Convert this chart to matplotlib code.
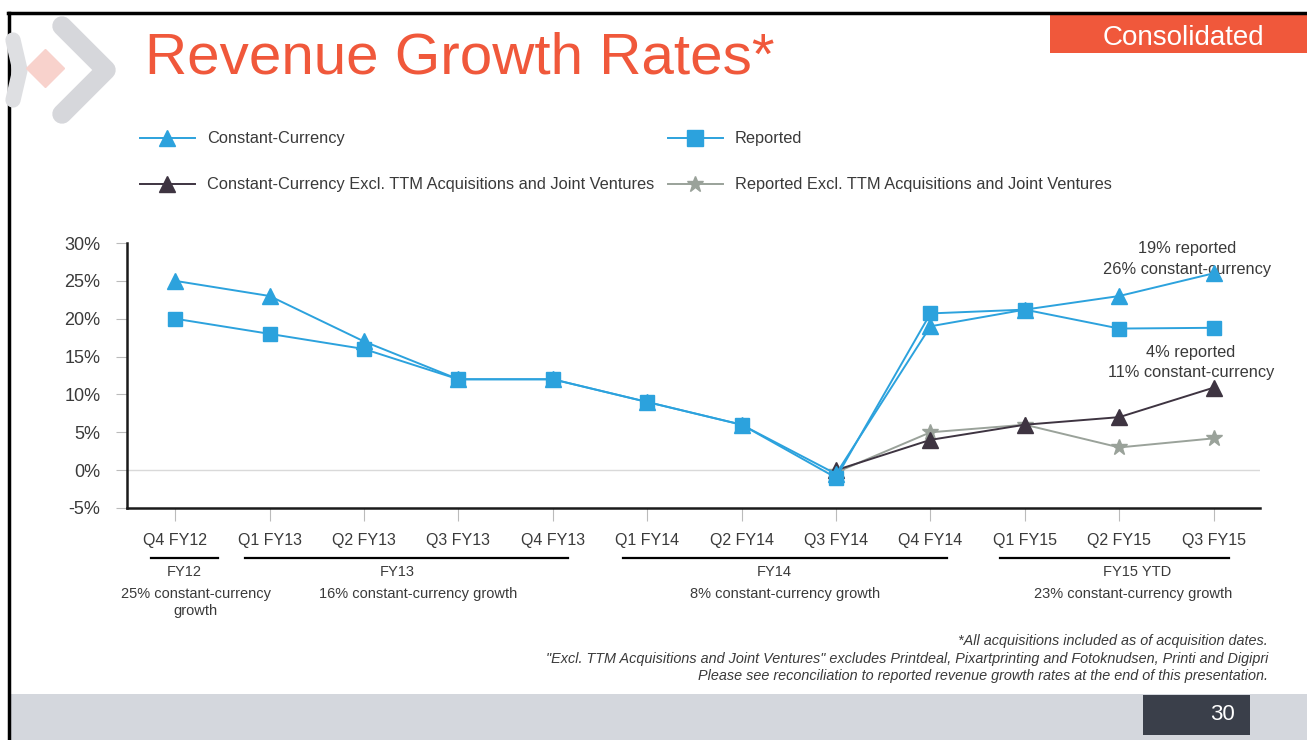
import numpy as np
import matplotlib.pyplot as plt
from matplotlib.lines import Line2D
from matplotlib.patches import Rectangle
import matplotlib.transforms as mtransforms

plt.rcParams['font.family'] = ['Liberation Sans', 'DejaVu Sans']

W, H = 1307, 740

# ---- data ----
quarters = ['Q4 FY12', 'Q1 FY13', 'Q2 FY13', 'Q3 FY13', 'Q4 FY13', 'Q1 FY14',
            'Q2 FY14', 'Q3 FY14', 'Q4 FY14', 'Q1 FY15', 'Q2 FY15', 'Q3 FY15']
constant_currency = [25, 23, 17, 12, 12, 9, 6, -0.5, 19, 21.2, 23, 26]
reported = [20, 18, 16, 12, 12, 9, 6, -1, 20.7, 21.2, 18.7, 18.8]
# excl. series start at Q3 FY14
excl_start = 7
cc_excl = [0, 4, 6, 7, 10.9]
rep_excl = [-0.3, 5, 6, 3, 4.2]

groups = ['FY12', 'FY13', 'FY14', 'FY15 YTD']
group_first = [0, 1, 5, 9]
group_last = [0, 4, 8, 11]
group_notes = ['25% constant-currency\ngrowth', '16% constant-currency growth',
               '8% constant-currency growth', '23% constant-currency growth']

yticks = [-5, 0, 5, 10, 15, 20, 25, 30]

# layout of the fiscal-year brackets (in quarter units)
bracket_right_pad = [0.45, 0.16, 0.18, 0.16]
label_x = [0.095, 2.35, 6.34, 10.19]
note_x = [0.22, 2.57, 6.46, 10.15]

BLUE = '#2CA2DD'
DARK = '#3E3441'
GREY = '#9AA29A'
ORANGE = '#F0583B'
TXT = '#3A3A3A'


def fx(x):
    return x / W


def fy(y):
    return 1 - y / H


fig = plt.figure(figsize=(W / 100, H / 100), dpi=100)

# ---- slide decoration ----
fig.add_artist(Line2D([fx(8), 1], [fy(13), fy(13)], color='black', lw=2.5))
fig.add_artist(Line2D([fx(9), fx(9)], [fy(13), 0], color='black', lw=2.5))
fig.add_artist(Rectangle((fx(10), 0), 1, fy(694), color='#D4D7DD', lw=0))
fig.add_artist(Rectangle((fx(1143), fy(735)), fx(107), fy(695) - fy(735),
                         color='#3A3F4A', lw=0))
fig.text(fx(1222), fy(715), '30', color='white', fontsize=16, ha='center', va='center')
fig.add_artist(Rectangle((fx(1050), fy(53)), 1, fy(15) - fy(53), color=ORANGE, lw=0))
fig.text(fx(1183), fy(38), 'Consolidated', color='white', fontsize=20,
         ha='center', va='center')

# logo
fig.add_artist(Line2D([fx(62), fx(106), fx(62)], [fy(26), fy(70), fy(114)],
                      color='#D6D7DB', lw=14, solid_capstyle='round',
                      solid_joinstyle='round'))
fig.add_artist(Line2D([fx(13), fx(20), fx(13)], [fy(40), fy(70), fy(100)],
                      color='#DEDFE2', lw=11, solid_capstyle='round',
                      solid_joinstyle='round'))
fig.add_artist(Line2D([fx(45)], [fy(68)], marker='D', markersize=19, lw=0,
                      color='#F8D2CC'))

fig.text(fx(145), fy(58), 'Revenue Growth Rates*', color=ORANGE, fontsize=42,
         ha='left', va='center')

# ---- legend ----
legend_items = [
    ('Constant-Currency', BLUE, '^', 140, 138),
    ('Reported', BLUE, 's', 668, 138),
    ('Constant-Currency Excl. TTM Acquisitions and Joint Ventures', DARK, '^', 140, 184),
    ('Reported Excl. TTM Acquisitions and Joint Ventures', GREY, '*', 668, 184),
]
for label, col, mk, x0, y0 in legend_items:
    fig.add_artist(Line2D([fx(x0), fx(x0 + 55)], [fy(y0), fy(y0)], color=col, lw=1.4))
    fig.add_artist(Line2D([fx(x0 + 27)], [fy(y0)], color=col, marker=mk,
                          markersize=12 if mk == '*' else 11, lw=0))
    fig.text(fx(x0 + 67), fy(y0), label, fontsize=11.8, color=TXT, va='center')

# ---- chart ----
ax = fig.add_axes([fx(127), fy(508), fx(1260) - fx(127), fy(243) - fy(508)])
x = np.arange(len(quarters))
xe = x[excl_start:]

ax.axhline(0, color='#D9D9D9', lw=1, zorder=0)
ax.plot(xe, rep_excl, color=GREY, lw=1.4, marker='*', markersize=12, zorder=2)
ax.plot(xe, cc_excl, color=DARK, lw=1.4, marker='^', markersize=11, zorder=3)
ax.plot(x, constant_currency, color=BLUE, lw=1.4, marker='^', markersize=11, zorder=4)
ax.plot(x, reported, color=BLUE, lw=1.4, marker='s', markersize=10, zorder=5)

ax.set_xlim(-0.51, 11.49)
ax.set_ylim(-5, 30)
ax.set_yticks(yticks)
ax.set_yticklabels([f'{v}%' for v in yticks], fontsize=13, color=TXT)
ax.set_xticks(x)
ax.set_xticklabels(quarters, fontsize=11.5, color=TXT)
ax.tick_params(axis='x', length=9, color='#BBBBBB', pad=9)
ax.tick_params(axis='y', length=8, color='#BBBBBB', pad=11)
for s in ['top', 'right']:
    ax.spines[s].set_visible(False)
for s in ['left', 'bottom']:
    ax.spines[s].set_linewidth(1.8)
    ax.spines[s].set_color('#1A1A1A')

ax.text(10.72, 27.9, '19% reported\n26% constant-currency', fontsize=11.8, color=TXT,
        ha='center', va='center', linespacing=1.45)
ax.text(10.76, 14.2, '4% reported\n11% constant-currency', fontsize=11.8, color=TXT,
        ha='center', va='center', linespacing=1.45)

# fiscal-year brackets below the axis
trans = mtransforms.blended_transform_factory(ax.transData, fig.transFigure)
for name, a, b, rp, lx, nx, note in zip(groups, group_first, group_last,
                                        bracket_right_pad, label_x, note_x, group_notes):
    fig.add_artist(Line2D([a - 0.26, b + rp], [fy(558), fy(558)], color='black', lw=1.6,
                          transform=trans))
    fig.text(lx, fy(572), name, fontsize=10.5, color=TXT, ha='center',
             va='center', transform=trans)
    fig.text(nx, fy(587), note, fontsize=10.5, color=TXT, ha='center',
             va='top', transform=trans, linespacing=1.3)

# footnotes
notes = ['*All acquisitions included as of acquisition dates.',
         '"Excl. TTM Acquisitions and Joint Ventures" excludes Printdeal, Pixartprinting '
         'and Fotoknudsen, Printi and Digipri',
         'Please see reconciliation to reported revenue growth rates at the end of this '
         'presentation.']
for i, t in enumerate(notes):
    fig.text(fx(1268), fy(641 + i * 17.5), t, fontsize=10.4, style='italic', color=TXT,
             ha='right', va='center')

fig.savefig('out.png', dpi=100)
